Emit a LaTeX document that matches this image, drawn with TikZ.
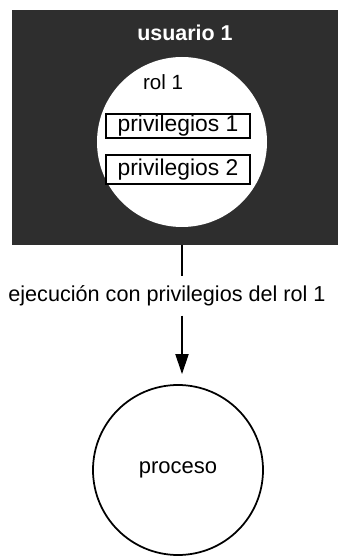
\documentclass[tikz,border=0pt]{standalone}
\usepackage{fontspec}
\setmainfont{Liberation Sans}
\usepackage{tikz}
\usetikzlibrary{positioning,arrows.meta}
\usepackage{xcolor}

\begin{document}
\begin{tikzpicture}[
  usrbox/.style = {draw=none, fill=black!82, inner sep=0pt},
  rolcirc/.style= {circle, fill=white, inner sep=0pt, minimum size=34mm},
  prv/.style    = {draw, fill=white, line width=0.3mm, inner sep=0pt,
                   minimum width=28.8mm, font=\fontsize{13}{15}\selectfont},
  proc/.style   = {circle, draw, line width=0.35mm, inner sep=0pt,
                   minimum size=34mm, font=\fontsize{12.5}{15}\selectfont},
  lbl/.style    = {inner sep=1.8mm, font=\fontsize{12.3}{15}\selectfont},
  ln/.style     = {line width=0.4mm},
  fl/.style     = {-{Triangle[length=4mm, width=2.6mm]}, line width=0.4mm},
]
\useasboundingbox (0mm,0mm) rectangle (68mm,-111.2mm);

% ---------------- usuario (dark box) ------------------------------------
\node[usrbox, minimum width=65.2mm, minimum height=47mm] (usr) at (35mm,-25.5mm) {};
\node[text=white, font=\fontsize{12.2}{14}\selectfont\bfseries] (usrtxt)
  at (37mm,-6.6mm) {usuario 1};

% ---------------- rol 1 -------------------------------------------------
\node[rolcirc] (c1) at (36.4mm,-28.4mm) {};
\node[font=\fontsize{11.7}{14}\selectfont] (rol) at (32.6mm,-16.4mm) {rol 1};
\node[prv, minimum height=4.8mm] (pv1) at (35.6mm,-25.2mm) {privilegios 1};
\node[prv, minimum height=5.8mm] (pv2) at (35.6mm,-33.9mm) {privilegios 2};

% ---------------- proceso -----------------------------------------------
\node[lbl] (ejec) at (33.4mm,-59.2mm) {ejecución con privilegios del rol 1};
\node[proc] (prc) at (35.6mm,-94mm) {proceso};

% ---------------- edges -------------------------------------------------
\draw[ln] (c1 |- usr.south) -- (c1 |- ejec.north);
\draw[fl, shorten >=2mm] (c1 |- ejec.south) -- (c1 |- prc.north);

\end{tikzpicture}
\end{document}
